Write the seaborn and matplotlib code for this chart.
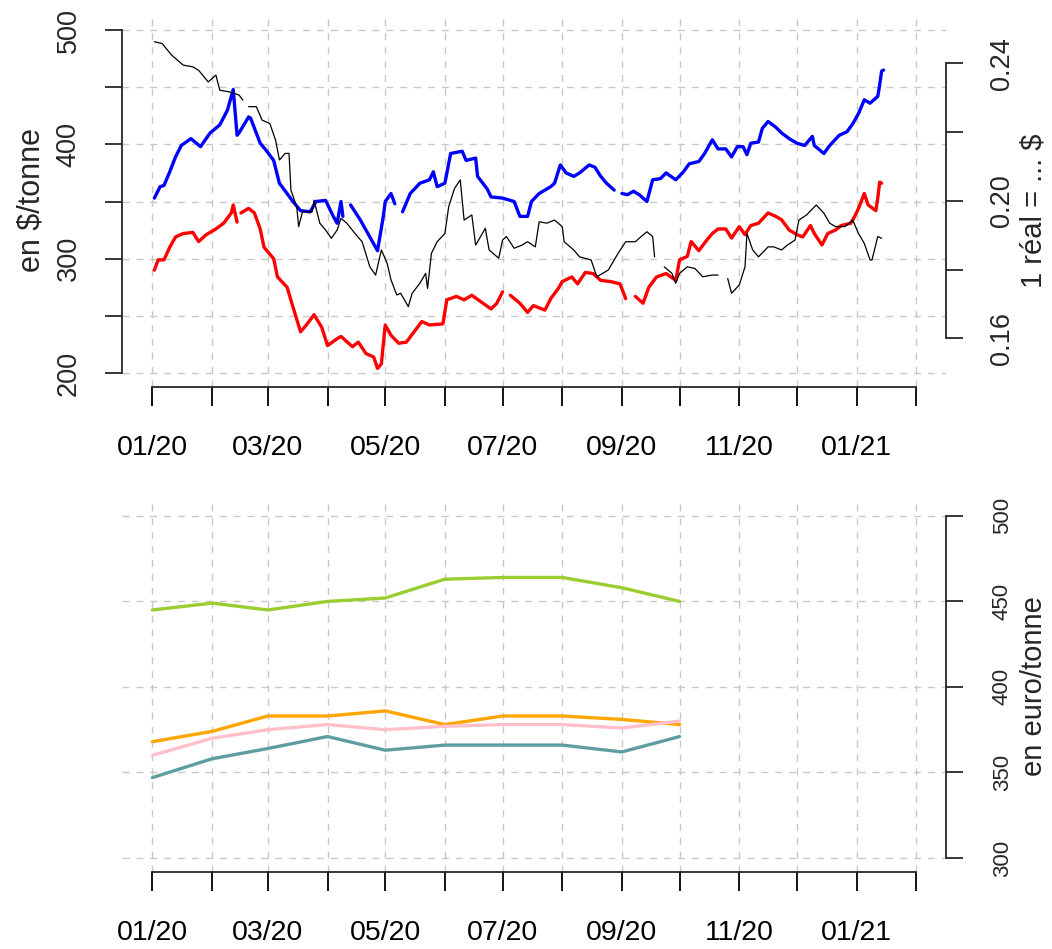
import pandas as pd
import seaborn as sns
import matplotlib.pyplot as plt
import matplotlib.dates as mdates

# --- prix journaliers (haut) ; None = trou dans la série ---
blue_dates = ["2020-01-02", "2020-01-05", "2020-01-07", "2020-01-10", "2020-01-13", "2020-01-16",
              "2020-01-21", "2020-01-26", "2020-01-31", "2020-02-05", "2020-02-09", "2020-02-12",
              "2020-02-14", "2020-02-15", "2020-02-20", "2020-02-21", "2020-02-26", "2020-02-29",
              "2020-03-04", "2020-03-07", "2020-03-11", "2020-03-14", "2020-03-18", "2020-03-23",
              "2020-03-26", "2020-03-31", "2020-04-04", "2020-04-06", "2020-04-08", "2020-04-09",
              "2020-04-11", "2020-04-13", "2020-04-18", "2020-04-22", "2020-04-27", "2020-04-30",
              "2020-05-01", "2020-05-04", "2020-05-06", "2020-05-08", "2020-05-10", "2020-05-14",
              "2020-05-19", "2020-05-24", "2020-05-26", "2020-05-28", "2020-06-01", "2020-06-04",
              "2020-06-10", "2020-06-12", "2020-06-17", "2020-06-18", "2020-06-23", "2020-06-25",
              "2020-07-01", "2020-07-07", "2020-07-10", "2020-07-14", "2020-07-16", "2020-07-20",
              "2020-07-23", "2020-07-26", "2020-07-28", "2020-07-31", "2020-08-03", "2020-08-07",
              "2020-08-10", "2020-08-15", "2020-08-18", "2020-08-21", "2020-08-24", "2020-08-28",
              "2020-08-30", "2020-09-01", "2020-09-04", "2020-09-07", "2020-09-10", "2020-09-14",
              "2020-09-17", "2020-09-21", "2020-09-24", "2020-09-29", "2020-10-03", "2020-10-06",
              "2020-10-11", "2020-10-14", "2020-10-18", "2020-10-21", "2020-10-25", "2020-10-28",
              "2020-10-31", "2020-11-03", "2020-11-05", "2020-11-07", "2020-11-11", "2020-11-13",
              "2020-11-16", "2020-11-20", "2020-11-23", "2020-11-27", "2020-12-01", "2020-12-05",
              "2020-12-09", "2020-12-10", "2020-12-15", "2020-12-18", "2020-12-23", "2020-12-27",
              "2020-12-30", "2021-01-02", "2021-01-05", "2021-01-08", "2021-01-12", "2021-01-13",
              "2021-01-14", "2021-01-15"]
blue_vals = [353, 363, 364, 376, 389, 399,
             405, 398, 410, 417, 430, 448,
             408, 410, 424, 423, 401, 395,
             386, 366, 357, 350, 342, 341,
             350, 351, 337, 331, 350, 337,
             None, 347, 334, 322, 307, 337,
             350, 357, 348, None, 341, 357,
             366, 369, 376, 363, 366, 392,
             394, 386, 388, 372, 361, 354,
             353, 350, 337, 337, 350, 357,
             360, 363, 366, 382, 375, 372,
             375, 382, 380, 372, 366, 360,
             None, 357, 356, 359, 356, 350,
             369, 370, 375, 369, 376, 383,
             385, 392, 404, 396, 396, 389,
             398, 398, 391, 401, 402, 414,
             420, 415, 410, 405, 401, 399,
             407, 399, 392, 399, 408, 411,
             418, 427, 439, 436, 442, 452,
             464, 465]

red_dates = ["2020-01-02", "2020-01-04", "2020-01-07", "2020-01-10", "2020-01-13", "2020-01-17",
             "2020-01-22", "2020-01-25", "2020-01-29", "2020-02-03", "2020-02-07", "2020-02-11",
             "2020-02-12", "2020-02-14", "2020-02-15", "2020-02-16", "2020-02-20", "2020-02-23",
             "2020-02-26", "2020-02-28", "2020-03-04", "2020-03-06", "2020-03-11", "2020-03-14",
             "2020-03-18", "2020-03-21", "2020-03-25", "2020-03-29", "2020-04-01", "2020-04-06",
             "2020-04-08", "2020-04-14", "2020-04-17", "2020-04-21", "2020-04-25", "2020-04-27",
             "2020-04-29", "2020-05-01", "2020-05-04", "2020-05-08", "2020-05-12", "2020-05-16",
             "2020-05-20", "2020-05-24", "2020-05-31", "2020-06-02", "2020-06-07", "2020-06-11",
             "2020-06-15", "2020-06-20", "2020-06-25", "2020-06-28", "2020-07-01", "2020-07-03",
             "2020-07-05", "2020-07-10", "2020-07-14", "2020-07-17", "2020-07-23", "2020-07-26",
             "2020-07-30", "2020-08-01", "2020-08-06", "2020-08-09", "2020-08-13", "2020-08-17",
             "2020-08-21", "2020-08-26", "2020-08-31", "2020-09-03", "2020-09-05", "2020-09-08",
             "2020-09-12", "2020-09-15", "2020-09-19", "2020-09-24", "2020-09-29", "2020-10-01",
             "2020-10-05", "2020-10-07", "2020-10-11", "2020-10-15", "2020-10-18", "2020-10-21",
             "2020-10-25", "2020-10-28", "2020-11-01", "2020-11-04", "2020-11-07", "2020-11-11",
             "2020-11-16", "2020-11-20", "2020-11-23", "2020-11-27", "2020-12-01", "2020-12-04",
             "2020-12-08", "2020-12-10", "2020-12-14", "2020-12-17", "2020-12-21", "2020-12-24",
             "2020-12-29", "2020-12-31", "2021-01-02", "2021-01-05", "2021-01-07", "2021-01-11",
             "2021-01-12", "2021-01-13", "2021-01-14"]
red_vals = [290, 299, 299, 310, 319, 322,
            323, 315, 321, 326, 331, 340,
            347, 332, None, 340, 344, 340,
            326, 310, 300, 284, 275, 258,
            236, 242, 251, 240, 224, 230,
            232, 223, 227, 217, 214, 204,
            208, 242, 233, 226, 227, 236,
            245, 242, 243, 264, 267, 264,
            268, 262, 256, 261, 271, None,
            268, 261, 253, 259, 255, 265,
            274, 280, 284, 278, 288, 287,
            281, 280, 278, 265, None, 267,
            261, 275, 284, 287, 281, 299,
            302, 315, 307, 316, 322, 326,
            326, 318, 328, 321, 329, 331,
            340, 337, 334, 325, 321, 319,
            329, 322, 312, 322, 325, 329,
            331, 337, 344, 357, 347, 342,
            353, 367, 366]

# 1 réal en $ (axe de droite)
brl_dates = ["2020-01-02", "2020-01-06", "2020-01-11", "2020-01-17", "2020-01-22", "2020-01-25",
             "2020-01-30", "2020-02-03", "2020-02-05", "2020-02-10", "2020-02-15", "2020-02-17",
             "2020-02-18", "2020-02-20", "2020-02-24", "2020-02-27", "2020-03-02", "2020-03-05",
             "2020-03-07", "2020-03-10", "2020-03-12", "2020-03-13", "2020-03-16", "2020-03-17",
             "2020-03-19", "2020-03-24", "2020-03-25", "2020-03-28", "2020-03-31", "2020-04-03",
             "2020-04-06", "2020-04-08", "2020-04-11", "2020-04-16", "2020-04-19", "2020-04-23",
             "2020-04-26", "2020-04-29", "2020-05-02", "2020-05-04", "2020-05-07", "2020-05-09",
             "2020-05-13", "2020-05-15", "2020-05-19", "2020-05-22", "2020-05-23", "2020-05-25",
             "2020-05-28", "2020-06-01", "2020-06-03", "2020-06-06", "2020-06-09", "2020-06-11",
             "2020-06-15", "2020-06-17", "2020-06-22", "2020-06-24", "2020-06-29", "2020-07-01",
             "2020-07-03", "2020-07-07", "2020-07-11", "2020-07-14", "2020-07-18", "2020-07-20",
             "2020-07-24", "2020-07-28", "2020-08-01", "2020-08-02", "2020-08-07", "2020-08-10",
             "2020-08-16", "2020-08-19", "2020-08-25", "2020-08-28", "2020-08-30", "2020-09-03",
             "2020-09-08", "2020-09-11", "2020-09-14", "2020-09-17", "2020-09-18", "2020-09-20",
             "2020-09-23", "2020-09-27", "2020-09-29", "2020-10-01", "2020-10-05", "2020-10-09",
             "2020-10-13", "2020-10-18", "2020-10-21", "2020-10-23", "2020-10-26", "2020-10-28",
             "2020-11-01", "2020-11-04", "2020-11-05", "2020-11-08", "2020-11-11", "2020-11-16",
             "2020-11-19", "2020-11-23", "2020-11-26", "2020-11-30", "2020-12-02", "2020-12-06",
             "2020-12-11", "2020-12-15", "2020-12-18", "2020-12-21", "2020-12-26", "2020-12-30",
             "2021-01-02", "2021-01-05", "2021-01-08", "2021-01-09", "2021-01-12", "2021-01-14"]
brl_vals = [0.2463, 0.2458, 0.2424, 0.2395, 0.2390, 0.2380,
            0.2346, 0.2366, 0.2322, 0.2317, 0.2308, 0.2293,
            None, 0.2274, 0.2274, 0.2235, 0.2225, 0.2177,
            0.2119, 0.2138, 0.2138, 0.2031, 0.1983, 0.1925,
            0.1968, 0.1968, 0.2002, 0.1935, 0.1915, 0.1891,
            0.1915, 0.1949, 0.1935, 0.1900, 0.1881, 0.1808,
            0.1784, 0.1857, 0.1818, 0.1770, 0.1726, 0.1731,
            0.1692, 0.1731, 0.1760, 0.1789, 0.1745, 0.1847,
            0.1881, 0.1905, 0.1983, 0.2036, 0.2061, 0.1944,
            0.1959, 0.1871, 0.1920, 0.1857, 0.1833, 0.1886,
            0.1896, 0.1862, 0.1871, 0.1881, 0.1866, 0.1939,
            0.1935, 0.1944, 0.1925, 0.1881, 0.1857, 0.1837,
            0.1828, 0.1779, 0.1799, 0.1828, 0.1847, 0.1881,
            0.1881, 0.1896, 0.1910, 0.1896, 0.1837, None,
            0.1808, 0.1789, 0.1760, 0.1789, 0.1808, 0.1803,
            0.1779, 0.1784, 0.1784, None, 0.1774, 0.1731,
            0.1755, 0.1808, 0.1905, 0.1857, 0.1837, 0.1866,
            0.1866, 0.1857, 0.1871, 0.1886, 0.1944, 0.1959,
            0.1988, 0.1964, 0.1935, 0.1925, 0.1925, 0.1944,
            0.1905, 0.1876, 0.1828, 0.1828, 0.1896, 0.1891]

# --- prix mensuels en euro/tonne (bas) ---
months = ["2020-01-01", "2020-02-01", "2020-03-01", "2020-04-01", "2020-05-01",
          "2020-06-01", "2020-07-01", "2020-08-01", "2020-09-01", "2020-10-01"]
green_vals = [445, 449, 445, 450, 452, 463, 464, 464, 458, 450]
orange_vals = [368, 374, 383, 383, 386, 378, 383, 383, 381, 378]
pink_vals = [360, 370, 375, 378, 375, 377, 378, 378, 376, 380]
teal_vals = [347, 358, 364, 371, 363, 366, 366, 366, 362, 371]

month_ticks = pd.date_range("2020-01-01", "2021-02-01", freq="MS")
month_labels = ["01/20", "", "03/20", "", "05/20", "", "07/20", "", "09/20", "", "11/20", "", "01/21", ""]


def to_frame(dates, vals):
    df = pd.DataFrame({"date": pd.to_datetime(dates), "val": pd.to_numeric(pd.Series(vals, dtype=object))})
    df["seg"] = df["val"].isna().cumsum()
    return df.dropna()


sns.set_style("white")
plt.rcParams['font.family'] = ['Liberation Sans', 'DejaVu Sans']

fig = plt.figure(figsize=(10.52, 9.49), dpi=100)
ax = fig.add_axes([0.116, 0.5925, 0.7833, 0.3903])
axb = fig.add_axes([0.116, 0.0815, 0.7833, 0.3893])

day0 = mdates.date2num(pd.Timestamp("2020-01-01"))
x0 = day0 - 15.8
x1 = day0 + 412.5
t0 = mdates.date2num(month_ticks[0])
t1 = mdates.date2num(month_ticks[-1])
grid_kw = dict(color="#c8c8c8", linestyle=(0, (5, 5)), linewidth=1.0)

# panneau du haut
sns.lineplot(data=to_frame(blue_dates, blue_vals), x="date", y="val", units="seg", estimator=None,
             color="#0000ff", lw=2.4, ax=ax, legend=False)
sns.lineplot(data=to_frame(red_dates, red_vals), x="date", y="val", units="seg", estimator=None,
             color="#ff0000", lw=2.4, ax=ax, legend=False)
ax2 = ax.twinx()
sns.lineplot(data=to_frame(brl_dates, brl_vals), x="date", y="val", units="seg", estimator=None,
             color="black", lw=0.9, ax=ax2, legend=False)

ax.set_xlim(x0, x1)
ax.set_ylim(188, 512)
ax2.set_ylim(0.1459, 0.2537)
ax.set_yticks([200, 250, 300, 350, 400, 450, 500])
ax.set_yticklabels(["200", "", "300", "", "400", "", "500"], rotation=90, va="center")
ax2.set_yticks([0.16, 0.18, 0.20, 0.22, 0.24])
ax2.set_yticklabels(["0.16", "", "0.20", "", "0.24"], rotation=90, va="center")

# panneau du bas
for vals, col in [(green_vals, "#9acd32"), (orange_vals, "#ffa500"),
                  (pink_vals, "#ffc0cb"), (teal_vals, "#5f9ea0")]:
    sns.lineplot(x=pd.to_datetime(months), y=vals, color=col, lw=2.4, ax=axb)
axb.set_xlim(x0, x1)
axb.set_ylim(292, 508)
axb.yaxis.tick_right()
axb.set_yticks([300, 350, 400, 450, 500])
axb.set_yticklabels(["300", "350", "400", "450", "500"], rotation=90, va="center")

for a in (ax, ax2, axb):
    a.set_xlabel("")
    a.set_ylabel("")
    for s in a.spines.values():
        s.set_visible(False)
        s.set_linewidth(1.3)

for a in (ax, axb):
    a.set_xticks(mdates.date2num(month_ticks))
    a.set_xticklabels(month_labels)
    a.grid(True, **grid_kw)
    a.set_axisbelow(True)
    a.spines["bottom"].set_visible(True)
    a.spines["bottom"].set_bounds(t0, t1)
    a.tick_params(axis="x", bottom=True, direction="out", length=13.5, width=1.3, pad=21,
                  labelsize=20.5, colors="black")

ax.spines["left"].set_visible(True)
ax.spines["left"].set_bounds(200, 500)
ax.tick_params(axis="y", left=True, direction="out", length=12, width=1.3, pad=17, labelsize=19.5)
ax2.spines["right"].set_visible(True)
ax2.spines["right"].set_bounds(0.16, 0.24)
ax2.tick_params(axis="y", right=True, direction="out", length=12, width=1.3, pad=19, labelsize=19.5)
axb.spines["right"].set_visible(True)
axb.spines["right"].set_bounds(300, 500)
axb.tick_params(axis="y", right=True, direction="out", length=12, width=1.3, pad=21, labelsize=16)

fig.text(31 / 1052, 1 - 200 / 949, "en $/tonne", rotation=90, ha="center", va="center", fontsize=22)
fig.text(1034 / 1052, 1 - 211 / 949, "1 réal = ... $", rotation=90, ha="center", va="center", fontsize=21)
fig.text(1034 / 1052, 1 - 686 / 949, "en euro/tonne", rotation=90, ha="center", va="center", fontsize=21)

fig.savefig("out.png", dpi=100)
